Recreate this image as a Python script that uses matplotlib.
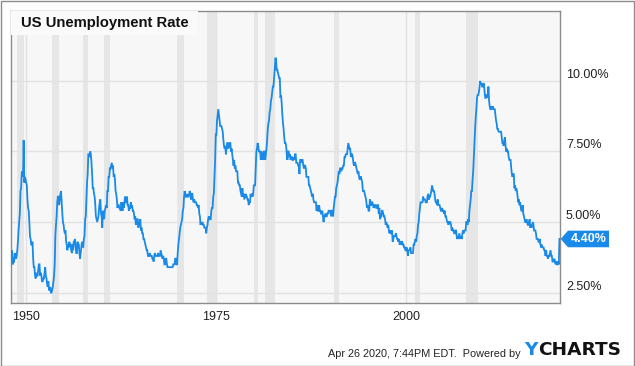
import numpy as np
import matplotlib
matplotlib.use("Agg")
import matplotlib.pyplot as plt
import matplotlib.transforms as mtransforms
from matplotlib.patches import Rectangle, Polygon

# ---------------- data (monthly US unemployment rate, %) ----------------
start_year = 1948
rate_1940s = [3.4, 3.8, 4.0, 3.9, 3.5, 3.6, 3.6, 3.9, 3.8, 3.7, 3.8, 4.0,
              4.3, 4.7, 5.0, 5.3, 6.1, 6.2, 6.7, 6.8, 6.6, 7.9, 6.4, 6.6]
rate_1950s = [6.5, 6.4, 6.3, 5.8, 5.5, 5.4, 5.0, 4.5, 4.4, 4.2, 4.2, 4.3,
              3.7, 3.4, 3.4, 3.1, 3.0, 3.2, 3.1, 3.1, 3.3, 3.5, 3.5, 3.1,
              3.2, 3.1, 2.9, 2.9, 3.0, 3.0, 3.2, 3.4, 3.1, 3.0, 2.8, 2.7,
              2.9, 2.6, 2.6, 2.7, 2.5, 2.5, 2.6, 2.7, 2.9, 3.1, 3.5, 4.5,
              4.9, 5.2, 5.7, 5.9, 5.9, 5.6, 5.8, 6.0, 6.1, 5.7, 5.3, 5.0,
              4.9, 4.7, 4.6, 4.7, 4.3, 4.2, 4.0, 4.2, 4.1, 4.3, 4.2, 4.2,
              4.0, 3.9, 4.2, 4.0, 4.3, 4.3, 4.4, 4.1, 3.9, 3.9, 4.3, 4.2,
              4.2, 3.9, 3.7, 3.9, 4.1, 4.3, 4.2, 4.1, 4.4, 4.5, 5.1, 5.2,
              5.8, 6.4, 6.7, 7.4, 7.4, 7.3, 7.5, 7.4, 7.1, 6.7, 6.2, 6.2,
              6.0, 5.9, 5.6, 5.2, 5.1, 5.0, 5.1, 5.2, 5.5, 5.7, 5.8, 5.3]
rate_1960s = [5.2, 4.8, 5.4, 5.2, 5.1, 5.4, 5.5, 5.6, 5.5, 6.1, 6.1, 6.6,
              6.6, 6.9, 6.9, 7.0, 7.1, 6.9, 7.0, 6.6, 6.7, 6.5, 6.1, 6.0,
              5.8, 5.5, 5.6, 5.6, 5.5, 5.5, 5.4, 5.7, 5.6, 5.4, 5.7, 5.5,
              5.7, 5.9, 5.7, 5.7, 5.9, 5.6, 5.6, 5.4, 5.5, 5.5, 5.7, 5.5,
              5.6, 5.4, 5.4, 5.3, 5.1, 5.2, 4.9, 5.0, 5.1, 5.1, 4.8, 5.0,
              4.9, 5.1, 4.7, 4.8, 4.6, 4.6, 4.4, 4.4, 4.3, 4.2, 4.1, 4.0,
              4.0, 3.8, 3.8, 3.8, 3.9, 3.8, 3.8, 3.8, 3.7, 3.7, 3.6, 3.8,
              3.9, 3.8, 3.8, 3.8, 3.8, 3.9, 3.8, 3.8, 3.8, 4.0, 3.9, 3.8,
              3.7, 3.8, 3.7, 3.5, 3.5, 3.7, 3.7, 3.5, 3.4, 3.4, 3.4, 3.4,
              3.4, 3.4, 3.4, 3.4, 3.4, 3.5, 3.5, 3.5, 3.7, 3.7, 3.5, 3.5]
rate_1970s = [3.9, 4.2, 4.4, 4.6, 4.8, 4.9, 5.0, 5.1, 5.4, 5.5, 5.9, 6.1,
              5.9, 5.9, 6.0, 5.9, 5.9, 5.9, 6.0, 6.1, 6.0, 5.8, 6.0, 6.0,
              5.8, 5.7, 5.8, 5.7, 5.7, 5.7, 5.6, 5.6, 5.5, 5.6, 5.3, 5.2,
              4.9, 5.0, 4.9, 5.0, 4.9, 4.9, 4.8, 4.8, 4.8, 4.6, 4.8, 4.9,
              5.1, 5.2, 5.1, 5.1, 5.1, 5.4, 5.5, 5.5, 5.9, 6.0, 6.6, 7.2,
              8.1, 8.1, 8.6, 8.8, 9.0, 8.8, 8.6, 8.4, 8.4, 8.4, 8.3, 8.2,
              7.9, 7.7, 7.6, 7.7, 7.4, 7.6, 7.8, 7.8, 7.6, 7.7, 7.8, 7.8,
              7.5, 7.6, 7.4, 7.2, 7.0, 7.2, 6.9, 7.0, 6.8, 6.8, 6.8, 6.4,
              6.4, 6.3, 6.3, 6.1, 6.0, 5.9, 6.2, 5.9, 6.0, 5.8, 5.9, 6.0,
              5.9, 5.9, 5.8, 5.8, 5.6, 5.7, 5.7, 6.0, 5.9, 6.0, 5.9, 6.0]
rate_1980s = [6.3, 6.3, 6.3, 6.9, 7.5, 7.6, 7.8, 7.7, 7.5, 7.5, 7.5, 7.2,
              7.5, 7.4, 7.4, 7.2, 7.5, 7.5, 7.2, 7.4, 7.6, 7.9, 8.3, 8.5,
              8.6, 8.9, 9.0, 9.3, 9.4, 9.6, 9.8, 9.8, 10.1, 10.4, 10.8, 10.8,
              10.4, 10.4, 10.3, 10.2, 10.1, 10.1, 9.4, 9.5, 9.2, 8.8, 8.5, 8.3,
              8.0, 7.8, 7.8, 7.7, 7.4, 7.2, 7.5, 7.5, 7.3, 7.4, 7.2, 7.3,
              7.3, 7.2, 7.2, 7.3, 7.2, 7.4, 7.4, 7.1, 7.1, 7.1, 7.0, 7.0,
              6.7, 7.2, 7.2, 7.1, 7.2, 7.2, 7.0, 6.9, 7.0, 7.0, 6.9, 6.6,
              6.6, 6.6, 6.6, 6.3, 6.3, 6.2, 6.1, 6.0, 5.9, 6.0, 5.8, 5.7,
              5.7, 5.7, 5.7, 5.4, 5.6, 5.4, 5.4, 5.6, 5.4, 5.4, 5.3, 5.3,
              5.4, 5.2, 5.0, 5.2, 5.2, 5.3, 5.2, 5.2, 5.3, 5.3, 5.4, 5.4]
rate_1990s = [5.4, 5.3, 5.2, 5.4, 5.4, 5.2, 5.5, 5.7, 5.9, 5.9, 6.2, 6.3,
              6.4, 6.6, 6.8, 6.7, 6.9, 6.9, 6.8, 6.9, 6.9, 7.0, 7.0, 7.3,
              7.3, 7.4, 7.4, 7.4, 7.6, 7.8, 7.7, 7.6, 7.6, 7.3, 7.4, 7.4,
              7.3, 7.1, 7.0, 7.1, 7.1, 7.0, 6.9, 6.8, 6.7, 6.8, 6.6, 6.5,
              6.6, 6.6, 6.5, 6.4, 6.1, 6.1, 6.1, 6.0, 5.9, 5.8, 5.6, 5.5,
              5.6, 5.4, 5.4, 5.8, 5.6, 5.6, 5.7, 5.7, 5.6, 5.5, 5.6, 5.6,
              5.6, 5.5, 5.5, 5.6, 5.6, 5.3, 5.5, 5.1, 5.2, 5.2, 5.4, 5.4,
              5.3, 5.2, 5.2, 5.1, 4.9, 5.0, 4.9, 4.8, 4.9, 4.7, 4.6, 4.7,
              4.6, 4.6, 4.7, 4.3, 4.4, 4.5, 4.5, 4.5, 4.6, 4.5, 4.4, 4.4,
              4.3, 4.4, 4.2, 4.3, 4.2, 4.3, 4.3, 4.2, 4.2, 4.1, 4.1, 4.0]
rate_2000s = [4.0, 4.1, 4.0, 3.8, 4.0, 4.0, 4.0, 4.1, 3.9, 3.9, 3.9, 3.9,
              4.2, 4.2, 4.3, 4.4, 4.3, 4.5, 4.6, 4.9, 5.0, 5.3, 5.5, 5.7,
              5.7, 5.7, 5.7, 5.9, 5.8, 5.8, 5.8, 5.7, 5.7, 5.7, 5.9, 6.0,
              5.8, 5.9, 5.9, 6.0, 6.1, 6.3, 6.2, 6.1, 6.1, 6.0, 5.8, 5.7,
              5.7, 5.6, 5.8, 5.6, 5.6, 5.6, 5.5, 5.4, 5.4, 5.5, 5.4, 5.4,
              5.3, 5.4, 5.2, 5.2, 5.1, 5.0, 5.0, 4.9, 5.0, 5.0, 5.0, 4.9,
              4.7, 4.8, 4.7, 4.7, 4.6, 4.6, 4.7, 4.7, 4.5, 4.4, 4.5, 4.4,
              4.6, 4.5, 4.4, 4.5, 4.4, 4.6, 4.7, 4.6, 4.7, 4.7, 4.7, 5.0,
              5.0, 4.9, 5.1, 5.0, 5.4, 5.6, 5.8, 6.1, 6.1, 6.5, 6.8, 7.3,
              7.8, 8.3, 8.7, 9.0, 9.4, 9.5, 9.5, 9.6, 9.8, 10.0, 9.9, 9.9]
rate_2010s = [9.8, 9.8, 9.9, 9.9, 9.6, 9.4, 9.4, 9.5, 9.5, 9.4, 9.8, 9.3,
              9.1, 9.0, 9.0, 9.1, 9.0, 9.1, 9.0, 9.0, 9.0, 8.8, 8.6, 8.5,
              8.3, 8.3, 8.2, 8.2, 8.2, 8.2, 8.2, 8.0, 7.8, 7.8, 7.7, 7.9,
              8.0, 7.7, 7.5, 7.6, 7.5, 7.5, 7.3, 7.2, 7.2, 7.2, 6.9, 6.7,
              6.6, 6.7, 6.7, 6.2, 6.3, 6.1, 6.2, 6.1, 5.9, 5.7, 5.8, 5.6,
              5.7, 5.5, 5.4, 5.4, 5.6, 5.3, 5.2, 5.1, 5.0, 5.0, 5.1, 5.0,
              4.9, 4.9, 5.0, 5.1, 4.8, 4.9, 4.8, 4.9, 5.0, 4.9, 4.7, 4.7,
              4.7, 4.6, 4.4, 4.4, 4.4, 4.3, 4.3, 4.4, 4.2, 4.1, 4.2, 4.1,
              4.1, 4.1, 4.0, 4.0, 3.8, 4.0, 3.8, 3.8, 3.7, 3.8, 3.8, 3.9,
              4.0, 3.8, 3.8, 3.6, 3.6, 3.6, 3.7, 3.6, 3.5, 3.6, 3.5, 3.5]
rate_2020s = [3.6, 3.5, 4.4]

# recessions: (start, end) as (year, month)
recession_starts = [(1948, 11), (1953, 7), (1957, 8), (1960, 4), (1969, 12), (1973, 11),
                    (1980, 1), (1981, 7), (1990, 7), (2001, 3), (2007, 12)]
recession_ends = [(1949, 10), (1954, 5), (1958, 4), (1961, 2), (1970, 11), (1975, 3),
                  (1980, 7), (1982, 11), (1991, 3), (2001, 11), (2009, 6)]

y_ticks = [2.5, 5.0, 7.5, 10.0]
x_ticks = [1950, 1975, 2000]
title = "US Unemployment Rate"
footer = "Apr 26 2020, 7:44PM EDT.  Powered by"
logo_parts = ["Y", "CHARTS"]

# ---------------- build ----------------
rates = np.array(rate_1940s + rate_1950s + rate_1960s + rate_1970s + rate_1980s
                 + rate_1990s + rate_2000s + rate_2010s + rate_2020s)
dates = start_year + np.arange(len(rates)) / 12.0

BLUE = "#1a8ae8"
W, H, DPI = 635, 366, 100
plt.rcParams["font.family"] = ["Liberation Sans", "DejaVu Sans"]
fig = plt.figure(figsize=(W / DPI, H / DPI), dpi=DPI)
fig.patch.set_facecolor("white")

# axes placement in pixels
L, T, R, B = 10.7, 10.7, 560.0, 303.0
ax = fig.add_axes([L / W, 1 - B / H, (R - L) / W, (B - T) / H])
ax.set_facecolor("#f7f7f7")
ax.set_xlim(1948.05, 2020.24)
ax.set_ylim(2.13, 12.49)

for (sy, sm), (ey, em) in zip(recession_starts, recession_ends):
    ax.axvspan(sy + (sm - 1) / 12, ey + (em - 1) / 12, color="#e6e6e6", lw=0, zorder=1)

for v in y_ticks:
    ax.axhline(v, color="#e2e2e2", lw=1.0, zorder=1.5)
for v in x_ticks:
    ax.axvline(v, color="#e2e2e2", lw=1.0, zorder=1.5)

ax.plot(dates, rates, color=BLUE, lw=1.3, zorder=3, solid_joinstyle="miter")

for s in ax.spines.values():
    s.set_color("#8c8c8c")
    s.set_linewidth(1.0)

ax.set_yticks([])
ax.set_xticks(x_ticks)
ax.set_xticklabels([str(v) for v in x_ticks], fontsize=9, color="#222222")
ax.tick_params(axis="x", length=0, pad=5.5)

ytrans = mtransforms.blended_transform_factory(ax.transAxes, ax.transData)
for v in y_ticks:
    ax.annotate(f"{v:.2f}%", xy=(1, v), xycoords=ytrans, xytext=(6, 6),
                textcoords="offset pixels", va="center", ha="left",
                fontsize=9, color="#222222", annotation_clip=False)

# last-value marker
last = rates[-1]
px = 1 / DPI
verts = np.array([(0.7, 0), (8, 8.3), (49, 8.3), (49, -8.3), (8, -8.3)]) * px
mk_trans = fig.dpi_scale_trans + mtransforms.ScaledTranslation(1.0, last, ytrans)
poly = Polygon(verts, closed=True, transform=mk_trans, facecolor=BLUE,
               edgecolor="none", clip_on=False, zorder=5)
ax.add_patch(poly)
ax.annotate(f"{last:.2f}%", xy=(1, last), xycoords=ytrans, xytext=(28.5, 0),
            textcoords="offset pixels", va="center", ha="center",
            fontsize=9, fontweight="bold", color="white", annotation_clip=False, zorder=6)

# title box
ax.add_patch(Rectangle((0, 1), (198 - L) / (R - L), -(35 - T) / (B - T),
                       transform=ax.transAxes, facecolor="#fafafa",
                       edgecolor="none", zorder=4))
ax.text((21.3 - L) / (R - L), 1 - (23 - T) / (B - T), title, transform=ax.transAxes,
        fontsize=10.7, fontweight="bold", color="#111111", va="center", ha="left", zorder=5)

# footer
fig.text(328 / W, 1 - 354 / H, footer, fontsize=7.8, color="#222222", va="center", ha="left")
ty = fig.text(524 / W, 1 - 350 / H, logo_parts[0], fontsize=13.3, fontweight="heavy",
              color=BLUE, va="center", ha="left", family="DejaVu Sans")
fig.canvas.draw()
bb = ty.get_window_extent()
fig.text((bb.x1 + 0.5) / W, 1 - 350 / H, logo_parts[1], fontsize=13.3, fontweight="heavy",
         color="#111111", va="center", ha="left", family="DejaVu Sans")

# outer border
fig.add_artist(Rectangle((0.5 / W, 1 - 365.5 / H), 633 / W, 365 / H,
                         transform=fig.transFigure, fill=False,
                         edgecolor="#8c8c8c", lw=1.0))

fig.savefig("out.png", dpi=DPI)
